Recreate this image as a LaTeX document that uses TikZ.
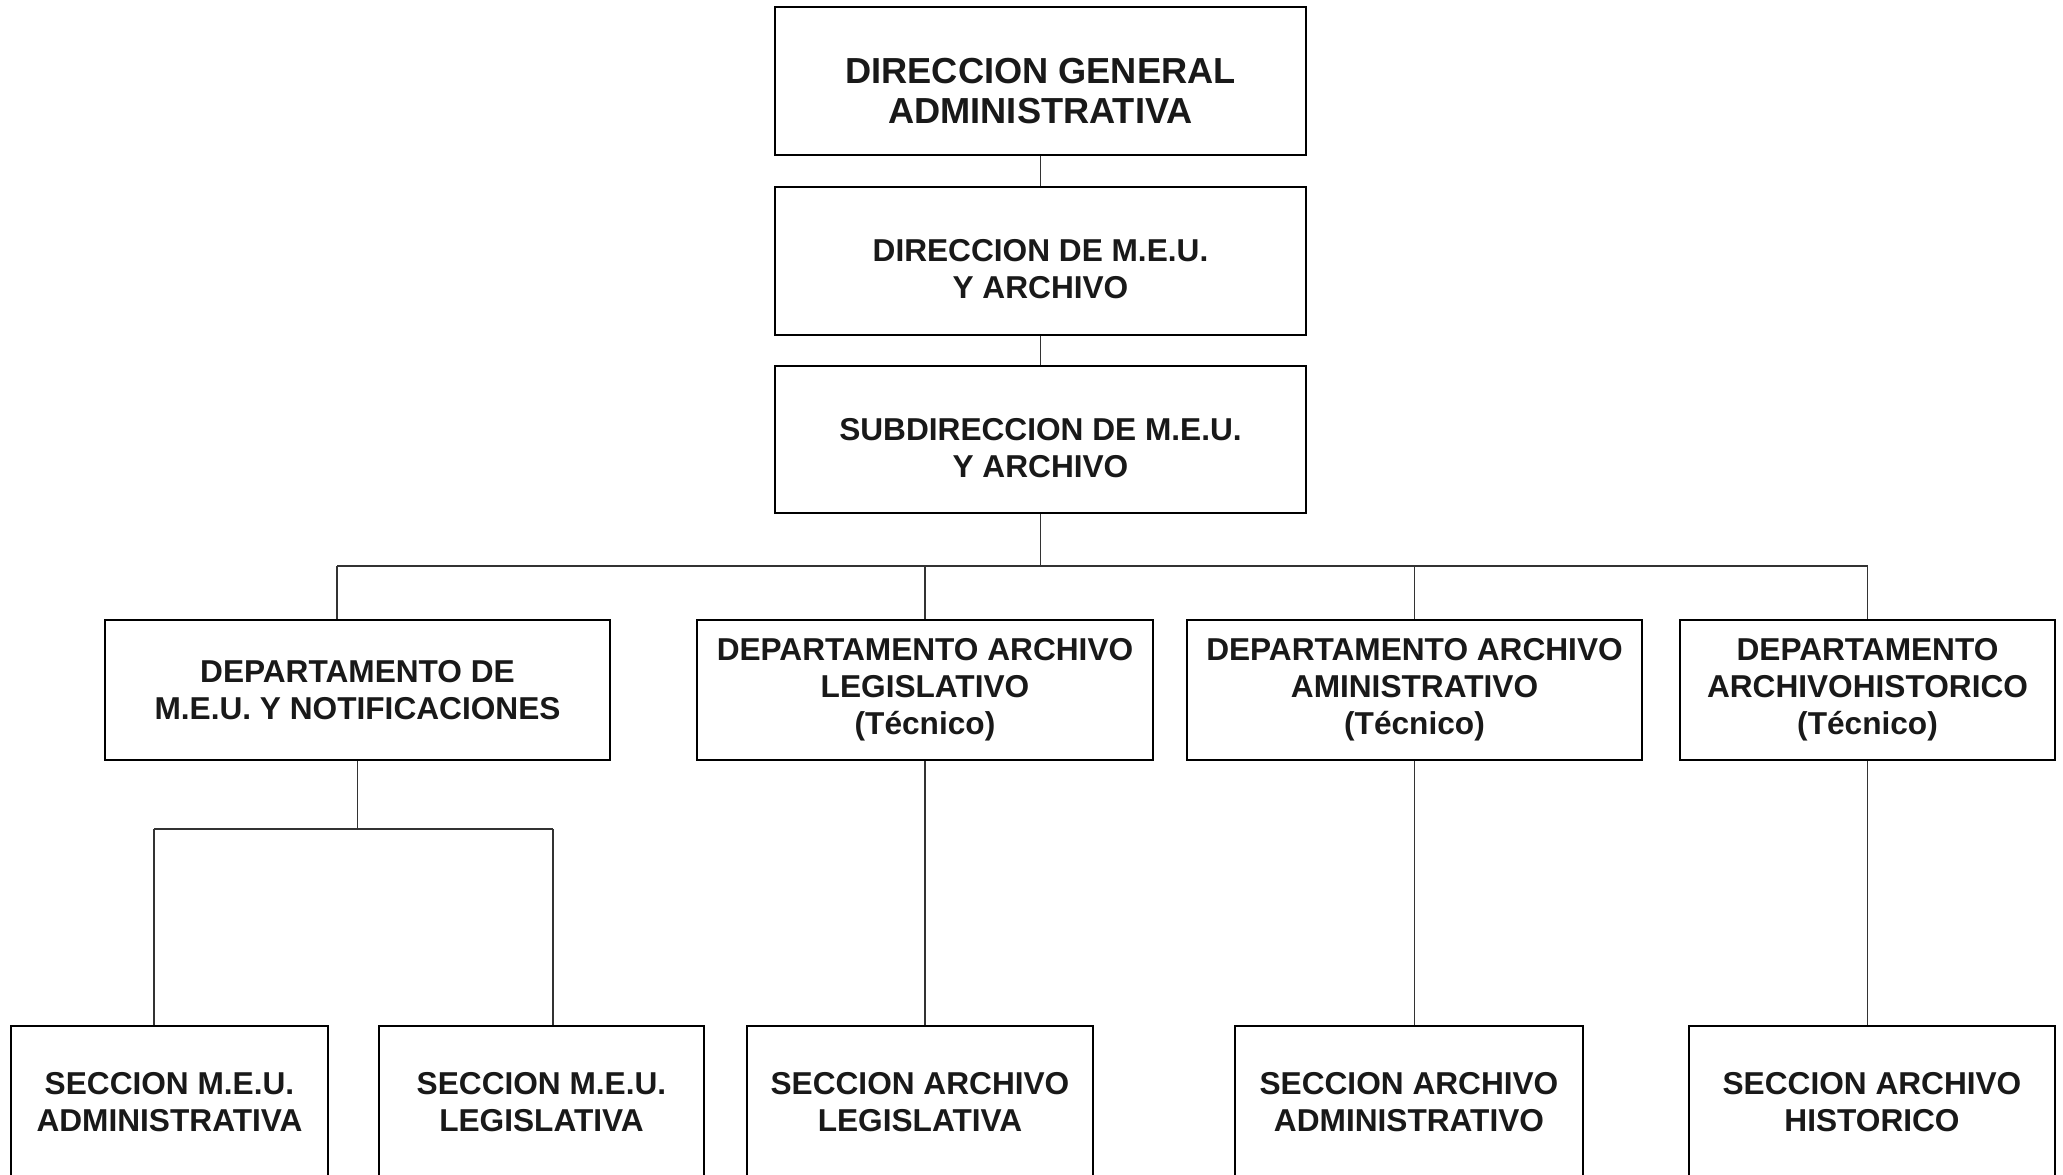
\documentclass[tikz,border=0pt]{standalone}
\usepackage{fontspec}
\setmainfont{Liberation Sans}
\usetikzlibrary{positioning,calc}
\tikzset{
  unit/.style={draw, line width=0.7pt, align=center, inner sep=2pt,
    font=\fontsize{9}{10.5}\selectfont\bfseries, text=black!90},
  link/.style={line width=0.5pt, black!80}
}
% text block set a little below the box centre
\newcommand\lowtext[2][0.12cm]{\raisebox{-#1}[\height][\depth]{\begin{tabular}{@{}c@{}}#2\end{tabular}}}

\begin{document}
\begin{tikzpicture}
    \useasboundingbox (0,0) rectangle (20.63,-11.74);
    % top chain
    \node [unit, minimum width=5.31cm, minimum height=1.48cm, font=\fontsize{10.3}{11.4}\selectfont\bfseries] (dga) at (10.405,-0.81) {\lowtext[0.145cm]{DIRECCION GENERAL\\ADMINISTRATIVA}};
    \node [unit, minimum width=5.31cm, minimum height=1.48cm] (dir) at (10.405,-2.61) {\lowtext{DIRECCION DE M.E.U.\\Y ARCHIVO}};
    \node [unit, minimum width=5.31cm, minimum height=1.47cm] (sub) at (10.405,-4.395) {\lowtext{SUBDIRECCION DE M.E.U.\\Y ARCHIVO}};
    % departamentos
    \node [unit, minimum width=5.05cm, minimum height=1.4cm] (dep1) at (3.575,-6.9) {DEPARTAMENTO DE\\M.E.U. Y NOTIFICACIONES};
    \node [unit, minimum width=4.56cm, minimum height=1.4cm] (dep2) at (9.25,-6.9) {DEPARTAMENTO ARCHIVO\\LEGISLATIVO\\(Técnico)};
    \node [unit, minimum width=4.55cm, minimum height=1.4cm] (dep3) at (14.145,-6.9) {DEPARTAMENTO ARCHIVO\\AMINISTRATIVO\\(Técnico)};
    \node [unit, minimum width=3.75cm, minimum height=1.4cm] (dep4) at (18.675,-6.9) {DEPARTAMENTO\\ARCHIVOHISTORICO\\(Técnico)};
    % secciones
    \node [unit, minimum width=3.17cm, minimum height=1.52cm] (s1) at (1.695,-11.02) {SECCION M.E.U.\\ADMINISTRATIVA};
    \node [unit, minimum width=3.25cm, minimum height=1.52cm] (s2) at (5.415,-11.02) {SECCION M.E.U.\\LEGISLATIVA};
    \node [unit, minimum width=3.46cm, minimum height=1.52cm] (s3) at (9.2,-11.02) {SECCION ARCHIVO\\LEGISLATIVA};
    \node [unit, minimum width=3.48cm, minimum height=1.52cm] (s4) at (14.09,-11.02) {SECCION ARCHIVO\\ADMINISTRATIVO};
    \node [unit, minimum width=3.66cm, minimum height=1.52cm] (s5) at (18.72,-11.02) {SECCION ARCHIVO\\HISTORICO};
    % buses
    \coordinate (busl) at (3.37,-5.66);
    \coordinate (busr) at (18.675,-5.66);
    \coordinate (subl) at (1.54,-8.29);
    \coordinate (subr) at (5.53,-8.29);
    % connectors
    \draw [link] (dga) -- (dir);
    \draw [link] (dir) -- (sub);
    \draw [link] (sub.south) -- (sub.south |- busl);
    \draw [link] (busl) -- (busr);
    \draw [link] (busl) -- (busl |- dep1.north);
    \draw [link] (dep2.north) -- (dep2.north |- busl);
    \draw [link] (dep3.north) -- (dep3.north |- busl);
    \draw [link] (busr) -- (dep4.north);
    \draw [link] (dep1.south) -- (dep1.south |- subl);
    \draw [link] (subl) -- (subr);
    \draw [link] (subl) -- (subl |- s1.north);
    \draw [link] (subr) -- (subr |- s2.north);
    \draw [link] (dep2.south) -- (dep2.south |- s3.north);
    \draw [link] (dep3.south) -- (dep3.south |- s4.north);
    \draw [link] (dep4.south) -- (dep4.south |- s5.north);
\end{tikzpicture}
\end{document}
